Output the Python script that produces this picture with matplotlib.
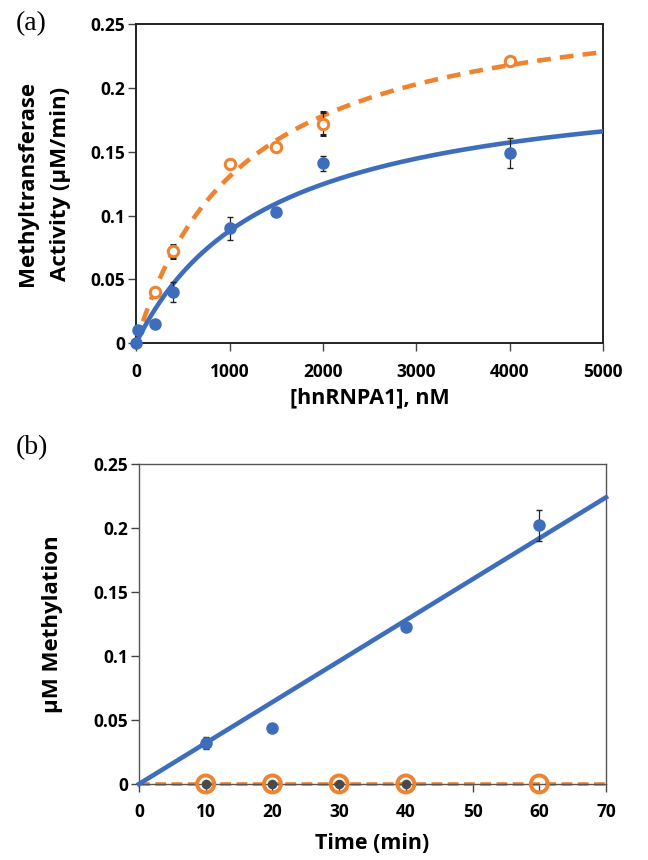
import matplotlib.pyplot as plt

# (a) rate vs hnRNPA1 concentration
conc_blue = [0, 25, 200, 400, 1000, 1500, 2000, 4000]
rate_blue = [0.0, 0.010, 0.015, 0.040, 0.090, 0.103, 0.141, 0.149]
err_blue = [0.0, 0.0, 0.0, 0.008, 0.009, 0.0, 0.006, 0.012]

conc_orange = [200, 400, 1000, 1500, 2000, 4000]
rate_orange = [0.040, 0.072, 0.140, 0.154, 0.172, 0.221]
err_orange = [0.001, 0.005, 0.002, 0.003, 0.009, 0.002]

# Michaelis-Menten fits (Vmax, Km)
fit_blue = (0.2132, 1423)
fit_orange = (0.2804, 1148)

# (b) methylation vs time
time_blue = [10, 20, 40, 60]
meth_blue = [0.032, 0.044, 0.123, 0.202]
err_meth = [0.005, 0.0, 0.0, 0.012]
time_orange = [10, 20, 30, 40, 60]
meth_orange = [0, 0, 0, 0, 0]
time_grey = [10, 20, 30, 40]
meth_grey = [0, 0, 0, 0]
slope_blue = 0.0032

blue = '#3e6dbd'
orange = '#ee8330'
font = ['Open Sans', 'DejaVu Sans']

plt.rcParams['font.family'] = font
plt.rcParams['font.weight'] = 'bold'

fig = plt.figure(figsize=(6.48, 8.6), dpi=100)
ax1 = fig.add_axes([0.210, 0.601, 0.721, 0.371])
ax2 = fig.add_axes([0.2145, 0.0884, 0.7207, 0.372])

xs = [i * 25 for i in range(201)]
ax1.plot(xs, [fit_orange[0] * x / (fit_orange[1] + x) for x in xs],
         color=orange, lw=3.3, ls=(0, (3, 2)), zorder=2)
ax1.plot(xs, [fit_blue[0] * x / (fit_blue[1] + x) for x in xs],
         color=blue, lw=3.3, zorder=3)
ax1.errorbar(conc_orange, rate_orange, yerr=err_orange, fmt='o', ms=7.5,
             mfc='white', mec=orange, mew=2.2, ecolor='#222222',
             elinewidth=0.9, capsize=2.5, zorder=4)
ax1.errorbar(conc_blue, rate_blue, yerr=err_blue, fmt='o', ms=8,
             color=blue, ecolor='#222222', elinewidth=0.9, capsize=2.5,
             zorder=5, clip_on=False)
ax1.set_xlim(0, 5000)
ax1.set_ylim(0, 0.25)
ax1.set_xticks([0, 1000, 2000, 3000, 4000, 5000])
ax1.set_yticks([0, 0.05, 0.1, 0.15, 0.2, 0.25])
ax1.set_yticklabels(['0', '0.05', '0.1', '0.15', '0.2', '0.25'])
ax1.set_xlabel('[hnRNPA1], nM', fontsize=15.5, fontweight='bold', labelpad=5)
ax1.set_ylabel('Methyltransferase\nActivity (µM/min)', fontsize=16,
               fontweight='bold', labelpad=14, linespacing=1.75)
for s in ax1.spines.values():
    s.set_linewidth(1.4)
    s.set_color('#222222')

ts = [0, 70]
ax2.plot(ts, [slope_blue * t for t in ts], color=blue, lw=3.3, zorder=3,
         clip_on=False)
ax2.plot([0, 70], [0, 0], color=orange, lw=2.6, ls=(0, (3, 1.5)), zorder=2,
         clip_on=False)
ax2.scatter(time_orange, meth_orange, s=150, facecolor='none',
            edgecolor=orange, linewidth=2.8, zorder=4, clip_on=False)
ax2.scatter(time_grey, meth_grey, s=35, color='#4a4a4a', zorder=5,
            clip_on=False)
ax2.errorbar(time_blue, meth_blue, yerr=err_meth, fmt='o', ms=8,
             color=blue, ecolor='#222222', elinewidth=0.9, capsize=2.5,
             zorder=5)
ax2.set_xlim(0, 70)
ax2.set_ylim(0, 0.25)
ax2.set_xticks(range(0, 71, 10))
ax2.set_yticks([0, 0.05, 0.1, 0.15, 0.2, 0.25])
ax2.set_yticklabels(['0', '0.05', '0.1', '0.15', '0.2', '0.25'])
ax2.set_xlabel('Time (min)', fontsize=15.5, fontweight='bold', labelpad=8)
ax2.set_ylabel('µM Methylation', fontsize=16, fontweight='bold',
               labelpad=22)
for s in ax2.spines.values():
    s.set_linewidth(1.0)
    s.set_color('#555555')

for ax in (ax1, ax2):
    ax.tick_params(direction='out', length=6, width=1, labelsize=12.5,
                   pad=8, color='#444444')
    ax.tick_params(axis='y', pad=2)
    for lab in ax.get_xticklabels() + ax.get_yticklabels():
        lab.set_fontweight('bold')

fig.text(0.025, 0.972, '(a)', family='Liberation Serif', fontsize=20,
         fontweight='normal', va='center')
fig.text(0.025, 0.479, '(b)', family='Liberation Serif', fontsize=20,
         fontweight='normal', va='center')

fig.savefig('out.png', dpi=100)
